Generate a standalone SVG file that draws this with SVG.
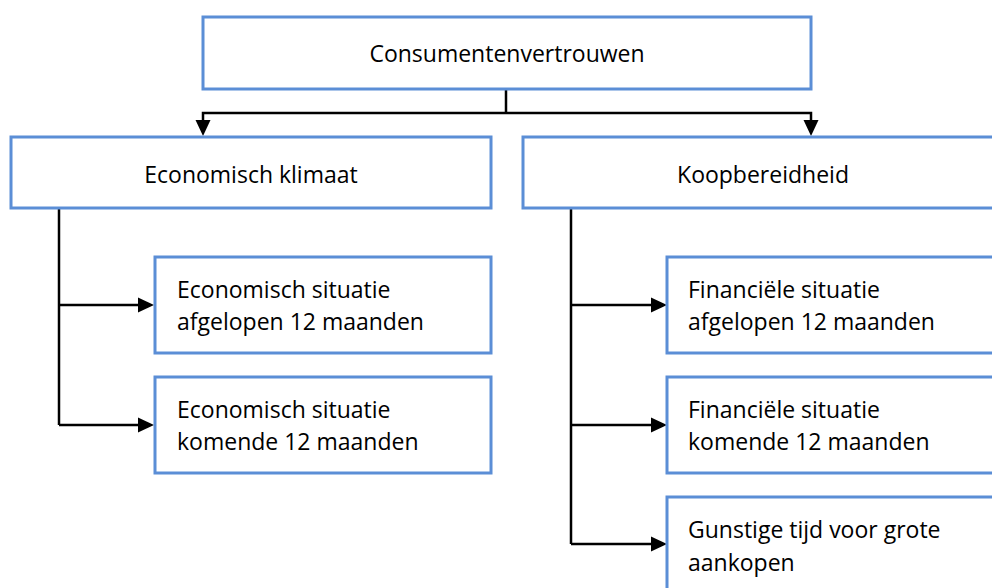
<svg xmlns="http://www.w3.org/2000/svg" width="992" height="588" viewBox="0 0 992 588">
  <style>
    .box { fill: #ffffff; stroke: #5b8ed6; stroke-width: 3; }
    .lbl { font-family: "Open Sans", "Liberation Sans", sans-serif; font-size: 23px; fill: #000000; }
    .mid { text-anchor: middle; }
    .con { fill: none; stroke: #000000; stroke-width: 2.5; }
  </style>
  <defs>
    <marker id="arrow" markerUnits="userSpaceOnUse" markerWidth="16" markerHeight="15" refX="2" refY="7.5" orient="auto" overflow="visible">
      <path d="M0,0 L16,7.5 L0,15 z" fill="#000000"/>
    </marker>
  </defs>
  <rect width="992" height="588" fill="#ffffff"/>

  <g id="connectors">
    <path class="con" d="M506,89 V113"/>
    <path class="con" d="M506,113 H203 V122" marker-end="url(#arrow)"/>
    <path class="con" d="M506,113 H811 V122" marker-end="url(#arrow)"/>
    <path class="con" d="M59,208 V425"/>
    <path class="con" d="M59,305 H140" marker-end="url(#arrow)"/>
    <path class="con" d="M59,425 H140" marker-end="url(#arrow)"/>
    <path class="con" d="M571,208 V544"/>
    <path class="con" d="M571,305 H653" marker-end="url(#arrow)"/>
    <path class="con" d="M571,425 H653" marker-end="url(#arrow)"/>
    <path class="con" d="M571,544 H653" marker-end="url(#arrow)"/>
  </g>

  <g id="consumentenvertrouwen">
    <rect class="box" x="203" y="17" width="608" height="72"/>
    <text class="lbl mid" x="507" y="62">Consumentenvertrouwen</text>
  </g>

  <g id="economisch-klimaat">
    <rect class="box" x="11" y="137" width="480" height="71"/>
    <text class="lbl mid" x="251" y="183">Economisch klimaat</text>
  </g>

  <g id="koopbereidheid">
    <rect class="box" x="523" y="137" width="480" height="71"/>
    <text class="lbl mid" x="763" y="183">Koopbereidheid</text>
  </g>

  <g id="econ-afgelopen">
    <rect class="box" x="155" y="257" width="336" height="96"/>
    <text class="lbl" x="177" y="298">Economisch situatie</text>
    <text class="lbl" x="177" y="330">afgelopen 12 maanden</text>
  </g>

  <g id="econ-komende">
    <rect class="box" x="155" y="377" width="336" height="96"/>
    <text class="lbl" x="177" y="418">Economisch situatie</text>
    <text class="lbl" x="177" y="450">komende 12 maanden</text>
  </g>

  <g id="fin-afgelopen">
    <rect class="box" x="667" y="257" width="336" height="96"/>
    <text class="lbl" x="688" y="298">Financiële situatie</text>
    <text class="lbl" x="688" y="330">afgelopen 12 maanden</text>
  </g>

  <g id="fin-komende">
    <rect class="box" x="667" y="377" width="336" height="96"/>
    <text class="lbl" x="688" y="418">Financiële situatie</text>
    <text class="lbl" x="688" y="450">komende 12 maanden</text>
  </g>

  <g id="gunstige-tijd">
    <rect class="box" x="667" y="497" width="336" height="96"/>
    <text class="lbl" x="688" y="538">Gunstige tijd voor grote</text>
    <text class="lbl" x="688" y="571">aankopen</text>
  </g>
</svg>
